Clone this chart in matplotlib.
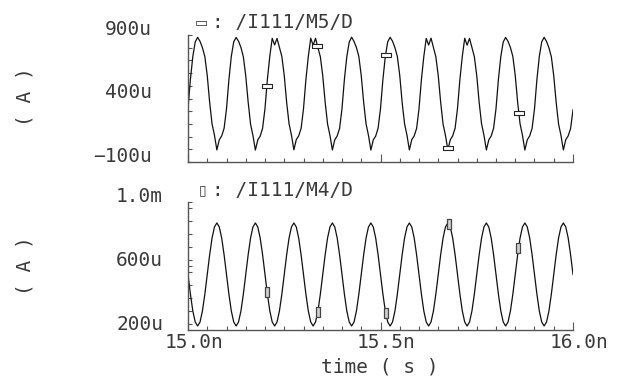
import numpy as np
import matplotlib.pyplot as plt
import matplotlib.transforms as mtransforms
from matplotlib.ticker import FixedLocator, MultipleLocator

plt.rcParams['font.family'] = ['DejaVu Sans Mono', 'DejaVu Sans']
plt.rcParams['font.size'] = 14

# transient dump, one sample every 6.25 ps from 15.0n to 16.0n
T_START = 15.0
T_STEP = 0.00625

# /I111/M5/D drain current in uA, one row per 100 ps period
M5_D = [
    320, 550, 730, 845, 882, 850, 800, 730, 580, 370, 200, 110, -5, 75, 105, 165,
    318, 548, 732, 846, 881, 851, 802, 728, 578, 372, 198, 108, -6, 74, 104, 166,
    322, 552, 734, 874, 822, 873, 801, 731, 581, 369, 201, 111, -4, 76, 106, 164,
    319, 549, 731, 875, 819, 874, 799, 729, 579, 371, 199, 109, -5, 75, 105, 165,
    321, 551, 729, 844, 883, 849, 801, 730, 580, 370, 200, 110, -6, 74, 104, 166,
    320, 550, 731, 846, 882, 851, 800, 731, 582, 368, 201, 111, -5, 76, 105, 164,
    318, 549, 730, 873, 821, 875, 802, 729, 579, 371, 199, 109, -4, 75, 106, 165,
    322, 551, 732, 874, 820, 873, 800, 730, 580, 370, 200, 110, -5, 74, 104, 166,
    320, 550, 730, 845, 881, 850, 801, 731, 581, 369, 201, 110, -6, 75, 105, 165,
    319, 549, 731, 846, 882, 849, 799, 729, 579, 371, 199, 109, -5, 76, 106, 164,
    310,
]

# /I111/M4/D drain current in uA
M4_D = [
    547, 424, 319, 250, 225, 250, 319, 424, 547, 670, 775, 844, 869, 844, 775, 670,
    547, 424, 319, 250, 225, 250, 319, 424, 547, 670, 775, 844, 869, 844, 775, 670,
    547, 424, 319, 250, 225, 250, 319, 424, 547, 670, 775, 844, 869, 844, 775, 670,
    547, 424, 319, 250, 225, 250, 319, 424, 547, 670, 775, 844, 869, 844, 775, 670,
    547, 424, 319, 250, 225, 250, 319, 424, 547, 670, 775, 844, 869, 844, 775, 670,
    547, 424, 319, 250, 225, 250, 319, 424, 547, 670, 775, 844, 869, 844, 775, 670,
    547, 424, 319, 250, 225, 250, 319, 424, 547, 670, 775, 844, 869, 844, 775, 670,
    547, 424, 319, 250, 225, 250, 319, 424, 547, 670, 775, 844, 869, 844, 775, 670,
    547, 424, 319, 250, 225, 250, 319, 424, 547, 670, 775, 844, 869, 844, 775, 670,
    547, 424, 319, 250, 225, 250, 319, 424, 547, 670, 775, 844, 869, 844, 775, 670,
    547,
]

# trace markers (time ns, current uA)
M5_MARK_T = [15.205, 15.336, 15.514, 15.676, 15.860]
M5_MARK_V = [495, 815, 740, 10, 285]
M4_MARK_T = [15.205, 15.338, 15.514, 15.678, 15.857]
M4_MARK_V = [440, 315, 306, 865, 715]

X_TICKS = [15.0, 15.5, 16.0]
X_LABELS = ["15.0n", "15.5n", "16.0n"]
M5_TICKS = [-100, 400, 900]
M5_LABELS = ["\u2212100u", "400u", "900u"]
M4_TICKS = [200, 600, 1000]
M4_LABELS = ["200u", "600u", "1.0m"]

t = T_START + T_STEP * np.arange(len(M5_D))

W, H = 622, 380
fig = plt.figure(figsize=(W / 100, H / 100), dpi=100)
ax1 = fig.add_axes([188 / W, 1 - 162 / H, 385 / W, 127 / H])
ax2 = fig.add_axes([188 / W, 1 - 330 / H, 385 / W, 128 / H])

axcol = "#555555"
txtcol = "#3a3a3a"
hrect = [(-1, -0.32), (1, -0.32), (1, 0.32), (-1, 0.32), (-1, -0.32)]
vrect = [(-0.4, -1), (0.4, -1), (0.4, 1), (-0.4, 1), (-0.4, -1)]

ax1.plot(t, M5_D, color="#111111", linewidth=0.9)
ax1.plot(M5_MARK_T, M5_MARK_V, linestyle="none", marker=hrect, markersize=7.5,
         markerfacecolor="white", markeredgecolor="#222222", markeredgewidth=0.8)
ax2.plot(t, M4_D, color="#111111", linewidth=0.9)
ax2.plot(M4_MARK_T, M4_MARK_V, linestyle="none", marker=vrect, markersize=6.5,
         markerfacecolor="#d0d0d0", markeredgecolor="#444444", markeredgewidth=0.9)

ax1.set_ylim(-100, 900)
ax2.set_ylim(200, 1000)

for ax, yt, yl, ystep, ypad in [(ax1, M5_TICKS, M5_LABELS, 100, 26),
                                (ax2, M4_TICKS, M4_LABELS, 80, 18)]:
    ax.set_xlim(15.0, 16.0)
    ax.spines["top"].set_visible(False)
    ax.spines["right"].set_visible(False)
    for s in ("left", "bottom"):
        ax.spines[s].set_color(axcol)
        ax.spines[s].set_linewidth(1.0)
    ax.xaxis.set_major_locator(FixedLocator(X_TICKS))
    ax.xaxis.set_minor_locator(MultipleLocator(0.05))
    ax.yaxis.set_major_locator(FixedLocator(yt))
    ax.yaxis.set_minor_locator(MultipleLocator(ystep))
    ax.set_yticklabels(yl)
    ax.tick_params(axis="x", which="major", direction="in", length=6, width=0.8, color=axcol)
    ax.tick_params(axis="x", which="minor", direction="in", length=3, width=0.8, color=axcol)
    ax.tick_params(axis="y", which="both", direction="in", length=3, width=0.8, color=axcol,
                   pad=ypad, labelcolor=txtcol)
    for lab in ax.get_yticklabels():
        lab.set_verticalalignment("baseline")

ax1.tick_params(axis="x", labelbottom=False)
ax2.set_xticklabels(X_LABELS)
ax2.tick_params(axis="x", pad=2.5, labelcolor=txtcol)
offset = mtransforms.ScaledTranslation(5.8 / 100, 0, fig.dpi_scale_trans)
for lab in ax2.xaxis.get_majorticklabels():
    lab.set_transform(lab.get_transform() + offset)

# trace names with their marker symbol
fig.text(201 / W, 1 - 22 / H, "\u25ad", ha="center", va="center", fontsize=10,
         color=txtcol, family="DejaVu Sans")
fig.text(212 / W, 1 - 22 / H, ": /I111/M5/D", ha="left", va="center", color=txtcol)
fig.text(203 / W, 1 - 190 / H, "\u25af", ha="center", va="center", fontsize=10,
         color=txtcol, family="DejaVu Sans")
fig.text(212 / W, 1 - 190 / H, ": /I111/M4/D", ha="left", va="center", color=txtcol)

fig.text(25 / W, 1 - 97 / H, "( A )", rotation=90, ha="center", va="center", color=txtcol)
fig.text(25 / W, 1 - 266 / H, "( A )", rotation=90, ha="center", va="center", color=txtcol)
fig.text(380 / W, 1 - 367 / H, "time ( s )", ha="center", va="center", color=txtcol)

fig.savefig("out.png", dpi=100)
